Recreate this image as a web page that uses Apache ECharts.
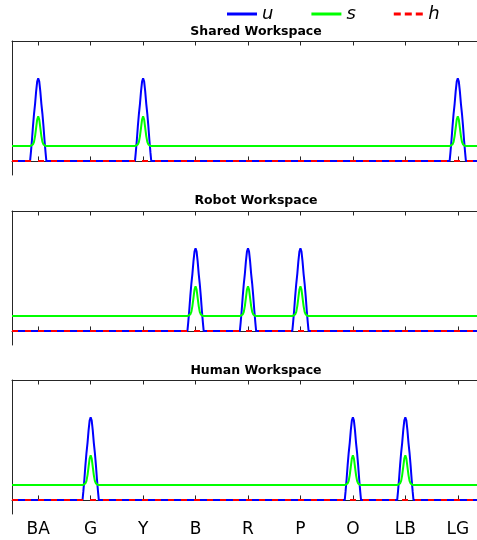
<!DOCTYPE html>
<html>
<head>
<meta charset="utf-8">
<title>Workspace signals</title>
<script src="https://cdn.jsdelivr.net/npm/echarts@6/dist/echarts.min.js"></script>
<style>
  html, body { margin: 0; padding: 0; background: #fff; overflow: hidden; }
  /* the plot frames run slightly past the right edge of the window */
  #chart { width: 492px; height: 540px; }
</style>
</head>
<body>
<div id="chart"></div>
<script>
// Object positions along the shared horizontal axis
const categories = ['BA', 'G', 'Y', 'B', 'R', 'P', 'O', 'LB', 'LG'];

// Panel titles and the objects that are active in each workspace
const panelTitles = ['Shared Workspace', 'Robot Workspace', 'Human Workspace'];
const sharedActive = ['BA', 'Y', 'LG'];
const robotActive = ['B', 'R', 'P'];
const humanActive = ['G', 'O', 'LB'];

// Resting levels of the three signals
const uBase = 0;
const sBase = 0.18;
const hLevel = 0;

// Shape of one pulse: horizontal offset from the object, and the u / s values there
const pulseOffsets = [-0.155, -0.14, -0.12, -0.10, -0.08, -0.06, -0.04, -0.02, 0,
                       0.02, 0.04, 0.06, 0.08, 0.10, 0.12, 0.14, 0.155];
const uPulse = [0, 0.10, 0.25, 0.42, 0.57, 0.69, 0.84, 0.96, 1,
                0.96, 0.84, 0.69, 0.57, 0.42, 0.25, 0.10, 0];
const sPulse = [0.18, 0.18, 0.185, 0.20, 0.23, 0.30, 0.40, 0.50, 0.54,
                0.50, 0.40, 0.30, 0.23, 0.20, 0.185, 0.18, 0.18];

const xMin = -0.5, xMax = categories.length - 0.5;

// Build a polyline: flat at base, with a pulse centred on every active object
function buildTrace(active, base, pulse) {
  const centers = active.map(n => categories.indexOf(n)).sort((a, b) => a - b);
  const pts = [[xMin, base]];
  centers.forEach(c => {
    pulseOffsets.forEach((o, k) => pts.push([c + o, pulse[k]]));
  });
  pts.push([xMax, base]);
  return pts;
}

const activeSets = [sharedActive, robotActive, humanActive];
const gridTops = [41, 211, 380];
const gridHeight = 134;
const frameColor = '#262626';
const font = 'DejaVu Sans';

const grids = [], xAxes = [], yAxes = [], series = [], graphics = [];
const titleMid = [32, 201, 370.5];

activeSets.forEach((active, i) => {
  grids.push({ left: 12, top: gridTops[i], width: 472, height: gridHeight,
               containLabel: false, outerBoundsMode: 'none' });

  const tickStyle = { show: true, inside: true, alignWithLabel: true, length: 4.5,
                      lineStyle: { color: frameColor, width: 1 } };
  xAxes.push({
    type: 'category', gridIndex: i, data: categories, position: 'bottom', boundaryGap: true,
    axisLine: { show: true, lineStyle: { color: frameColor, width: 1 } },
    axisTick: tickStyle,
    axisLabel: { show: i === 2, color: '#000', fontSize: 17, fontFamily: font, margin: 7 },
    splitLine: { show: false }
  });
  xAxes.push({
    type: 'category', gridIndex: i, data: categories, position: 'top', boundaryGap: true,
    axisLine: { show: true, lineStyle: { color: frameColor, width: 1 } },
    axisTick: tickStyle,
    axisLabel: { show: false },
    splitLine: { show: false }
  });
  xAxes.push({ type: 'value', gridIndex: i, min: xMin, max: xMax, show: false });

  yAxes.push({
    type: 'value', gridIndex: i, min: -0.17, max: 1.45,
    axisLine: { show: true, onZero: false, lineStyle: { color: frameColor, width: 1 } },
    axisTick: { show: false }, axisLabel: { show: false }, splitLine: { show: false }
  });

  const xIdx = i * 3 + 2;
  series.push({
    name: 'u', type: 'line', xAxisIndex: xIdx, yAxisIndex: i, symbol: 'none',
    data: buildTrace(active, uBase, uPulse), z: 2,
    lineStyle: { color: '#0000ff', width: 2 }, itemStyle: { color: '#0000ff' }
  });
  series.push({
    name: 's', type: 'line', xAxisIndex: xIdx, yAxisIndex: i, symbol: 'none',
    data: buildTrace(active, sBase, sPulse), z: 3,
    lineStyle: { color: '#00ff00', width: 2 }, itemStyle: { color: '#00ff00' }
  });
  series.push({
    name: 'h', type: 'line', xAxisIndex: xIdx, yAxisIndex: i, symbol: 'none',
    data: [[xMin, hLevel], [xMax, hLevel]], z: 10,
    lineStyle: { color: '#ff0000', width: 2, type: [6, 7] }, itemStyle: { color: '#ff0000' }
  });

  graphics.push({
    type: 'text', x: 256, y: titleMid[i],
    style: { text: panelTitles[i], fill: '#000', font: 'bold 12.5px "DejaVu Sans"',
             textAlign: 'center', textVerticalAlign: 'middle' }
  });
});

// Legend keys: a solid bar for u and s, three short dashes for h
const solidKey = 'path://M0,0h30v3h-30z';
const dashedKey = 'path://M0,0h7v3h-7z M11,0h7v3h-7z M22,0h7v3h-7z';

const chart = echarts.init(document.getElementById('chart'), null, { renderer: 'canvas' });
chart.setOption({
  animation: false,
  backgroundColor: '#fff',
  legend: {
    data: [
      { name: 'u', icon: solidKey },
      { name: 's', icon: solidKey },
      { name: 'h', icon: dashedKey }
    ],
    left: 227, top: 5, itemWidth: 30, itemHeight: 3, itemGap: 38, padding: 0,
    textStyle: { fontStyle: 'italic', fontSize: 18, fontFamily: font, color: '#000' }
  },
  grid: grids,
  xAxis: xAxes,
  yAxis: yAxes,
  series: series,
  graphic: graphics
});
</script>
</body>
</html>
